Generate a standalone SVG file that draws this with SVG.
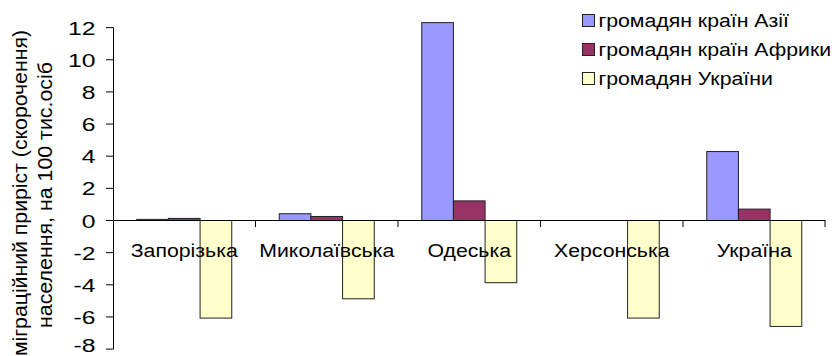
<svg xmlns="http://www.w3.org/2000/svg" width="834" height="356" viewBox="0 0 834 356">
<style>
text{font-family:"Liberation Sans",Arial,sans-serif;font-size:19px;fill:#000}
.tl{text-anchor:end}
.cl{text-anchor:middle}
.tt{font-size:21px}
.ax{stroke:#000;stroke-width:1;fill:none}
.asia{fill:#9999FF;stroke:#222;stroke-width:1}
.afr{fill:#993366;stroke:#222;stroke-width:1}
.ukr{fill:#FFFFCC;stroke:#222;stroke-width:1}
</style>
<rect width="834" height="356" fill="#fff"/>
<g id="bars">
<rect class="asia" x="136.75" y="219.37" width="31.67" height="1.13"/>
<rect class="afr" x="168.42" y="218.41" width="31.67" height="2.09"/>
<rect class="ukr" x="200.08" y="220.5" width="31.67" height="97.58"/>
<rect class="asia" x="279.25" y="213.75" width="31.67" height="6.75"/>
<rect class="afr" x="310.92" y="216.48" width="31.67" height="4.02"/>
<rect class="ukr" x="342.58" y="220.5" width="31.67" height="78.29"/>
<rect class="asia" x="421.75" y="22.62" width="31.67" height="197.88"/>
<rect class="afr" x="453.42" y="200.89" width="31.67" height="19.61"/>
<rect class="ukr" x="485.08" y="220.5" width="31.67" height="62.21"/>
<rect class="ukr" x="627.58" y="220.5" width="31.67" height="97.58"/>
<rect class="asia" x="706.75" y="151.54" width="31.67" height="68.96"/>
<rect class="afr" x="738.42" y="209.09" width="31.67" height="11.41"/>
<rect class="ukr" x="770.08" y="220.5" width="31.67" height="105.93"/>
</g>
<g id="axes">
<path class="ax" d="M113.5 27.6V349.1M106 27.6H113.5M106 59.75H113.5M106 91.9H113.5M106 124.05H113.5M106 156.2H113.5M106 188.35H113.5M106 220.5H113.5M106 252.65H113.5M106 284.8H113.5M106 316.95H113.5M106 349.1H113.5"/>
<path class="ax" d="M113.5 220.5H825.5M255.5 220.5V227M398 220.5V227M540.5 220.5V227M683 220.5V227M825 220.5V227"/>
</g>
<g id="ylabels" transform="scale(1.3,1)">
<text class="tl" x="73.4" y="34.8">12</text>
<text class="tl" x="73.4" y="66.9">10</text>
<text class="tl" x="73.4" y="99.1">8</text>
<text class="tl" x="73.4" y="131.2">6</text>
<text class="tl" x="73.4" y="163.4">4</text>
<text class="tl" x="73.4" y="195.5">2</text>
<text class="tl" x="73.4" y="227.7">0</text>
<text class="tl" x="73.4" y="259.8">-2</text>
<text class="tl" x="73.4" y="292">-4</text>
<text class="tl" x="73.4" y="324.1">-6</text>
<text class="tl" x="73.4" y="352">-8</text>
</g>
<g id="xlabels" transform="scale(1.12,1)">
<text class="cl" x="164.51" y="257.3">Запорізька</text>
<text class="cl" x="291.74" y="257.3">Миколаївська</text>
<text class="cl" x="418.97" y="257.3">Одеська</text>
<text class="cl" x="546.21" y="257.3">Херсонська</text>
<text class="cl" x="673.44" y="257.3">Україна</text>
</g>
<g id="ytitle">
<text class="cl tt" transform="translate(26.5,193) rotate(-90)" textLength="326" lengthAdjust="spacingAndGlyphs">міграційний приріст (скорочення)</text>
<text class="cl tt" transform="translate(52,195) rotate(-90)" textLength="266" lengthAdjust="spacingAndGlyphs">населення, на 100 тис.осіб</text>
</g>
<g id="legend">
<rect class="asia" x="582.5" y="14.5" width="12" height="12"/>
<rect class="afr" x="582.5" y="43.5" width="12" height="12"/>
<rect class="ukr" x="582.5" y="72.5" width="12" height="12"/>
<g transform="scale(1.12,1)">
<text x="534.3" y="27">громадян країн Азії</text>
<text x="534.3" y="56">громадян країн Африки</text>
<text x="534.3" y="85">громадян України</text>
</g>
</g>
</svg>
